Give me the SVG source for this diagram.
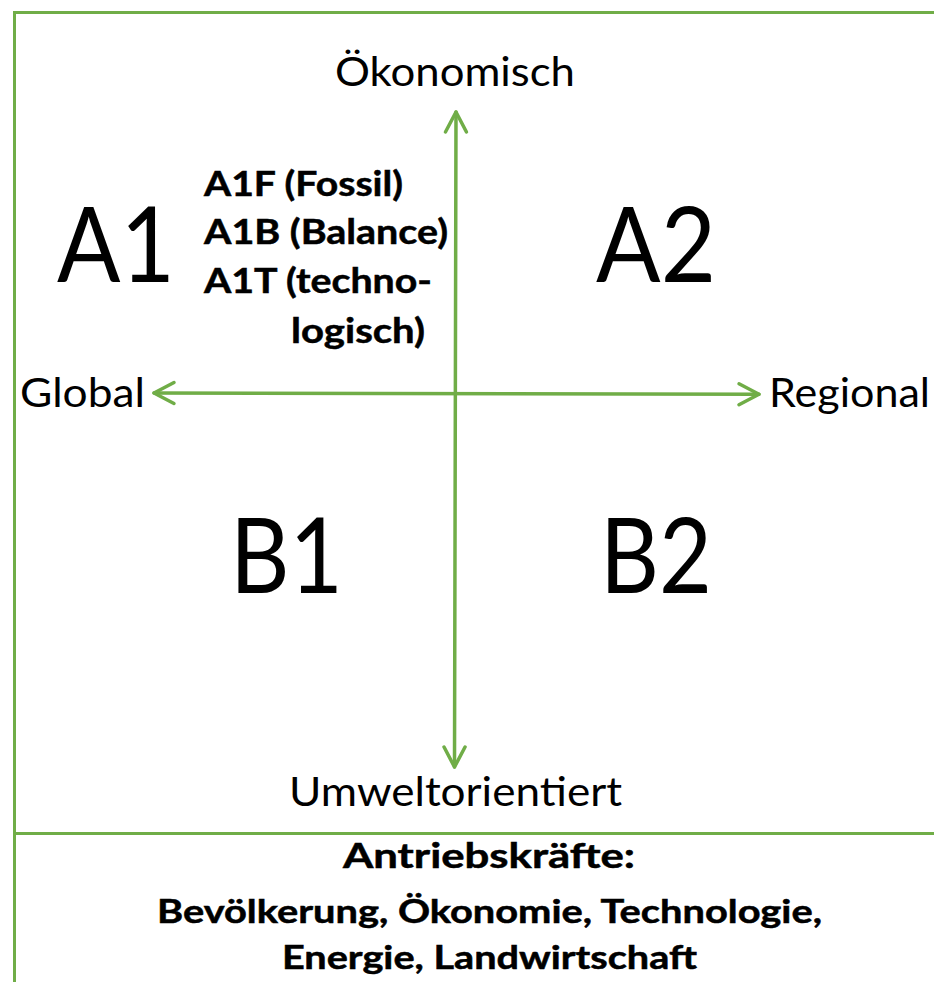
<svg xmlns="http://www.w3.org/2000/svg" width="934" height="982" viewBox="0 0 934 982">
<style>
.frame{stroke:#70AD47;stroke-width:3;fill:none}
.axis{stroke:#70AD47;stroke-width:3.5;fill:none;stroke-linecap:round}
.t{font-family:Lato,"Liberation Sans",sans-serif;fill:#000}
.lbl{font-size:41px}
.big{font-size:104px}
.sub{font-size:34px;font-weight:bold;stroke:#000;stroke-width:0.5}
.hd{font-size:35px;font-weight:bold;stroke:#000;stroke-width:0.5}
.dr{font-size:32px;font-weight:bold;stroke:#000;stroke-width:0.5}
</style>
<defs>
<marker id="chev" markerUnits="userSpaceOnUse" markerWidth="30" markerHeight="30" viewBox="-25 -15 30 30" refX="0" refY="0" orient="auto-start-reverse">
<path d="M-20,-10.5 L0,0 L-20,10.5" fill="none" stroke="#70AD47" stroke-width="3.5" stroke-linecap="round" stroke-linejoin="round"/>
</marker>
</defs>
<rect width="934" height="982" fill="#fff"/>
<g id="frame">
<line class="frame" x1="14.5" y1="11" x2="14.5" y2="982"/>
<line class="frame" x1="13" y1="12.5" x2="934" y2="12.5"/>
<line class="frame" x1="13" y1="833.5" x2="934" y2="833.5"/>
</g>
<g id="connectors">
<line class="axis" x1="456" y1="112" x2="454.5" y2="767" marker-start="url(#chev)" marker-end="url(#chev)"/>
<line class="axis" x1="154" y1="393" x2="759" y2="394.3" marker-start="url(#chev)" marker-end="url(#chev)"/>
</g>
<g id="label-oekonomisch"><text class="t lbl" x="335" y="86" textLength="240" lengthAdjust="spacingAndGlyphs">Ökonomisch</text></g>
<g id="label-global"><text class="t lbl" x="20" y="407" textLength="125" lengthAdjust="spacingAndGlyphs">Global</text></g>
<g id="label-regional"><text class="t lbl" x="769" y="407" textLength="161" lengthAdjust="spacingAndGlyphs">Regional</text></g>
<g id="label-umwelt"><text class="t lbl" x="289" y="806" textLength="333" lengthAdjust="spacingAndGlyphs">Umweltorientiert</text></g>
<g id="node-A1"><text class="t big" x="57" y="282" textLength="118" lengthAdjust="spacingAndGlyphs">A1</text></g>
<g id="node-A2"><text class="t big" x="596" y="282" textLength="120" lengthAdjust="spacingAndGlyphs">A2</text></g>
<g id="node-B1"><text class="t big" x="230" y="593" textLength="113" lengthAdjust="spacingAndGlyphs">B1</text></g>
<g id="node-B2"><text class="t big" x="600" y="593" textLength="112" lengthAdjust="spacingAndGlyphs">B2</text></g>
<g id="node-A1-variants">
<text class="t sub" x="204" y="196" textLength="199" lengthAdjust="spacingAndGlyphs">A1F (Fossil)</text>
<text class="t sub" x="204" y="244" textLength="244" lengthAdjust="spacingAndGlyphs">A1B (Balance)</text>
<text class="t sub" x="204" y="293" textLength="228" lengthAdjust="spacingAndGlyphs">A1T (techno-</text>
<text class="t sub" x="291" y="343" textLength="134" lengthAdjust="spacingAndGlyphs">logisch)</text>
</g>
<g id="node-drivers">
<text class="t hd" x="343" y="868" textLength="292" lengthAdjust="spacingAndGlyphs">Antriebskräfte:</text>
<text class="t dr" x="157" y="923" textLength="665" lengthAdjust="spacingAndGlyphs">Bevölkerung, Ökonomie, Technologie,</text>
<text class="t dr" x="282" y="969" textLength="415" lengthAdjust="spacingAndGlyphs">Energie, Landwirtschaft</text>
</g>
</svg>
